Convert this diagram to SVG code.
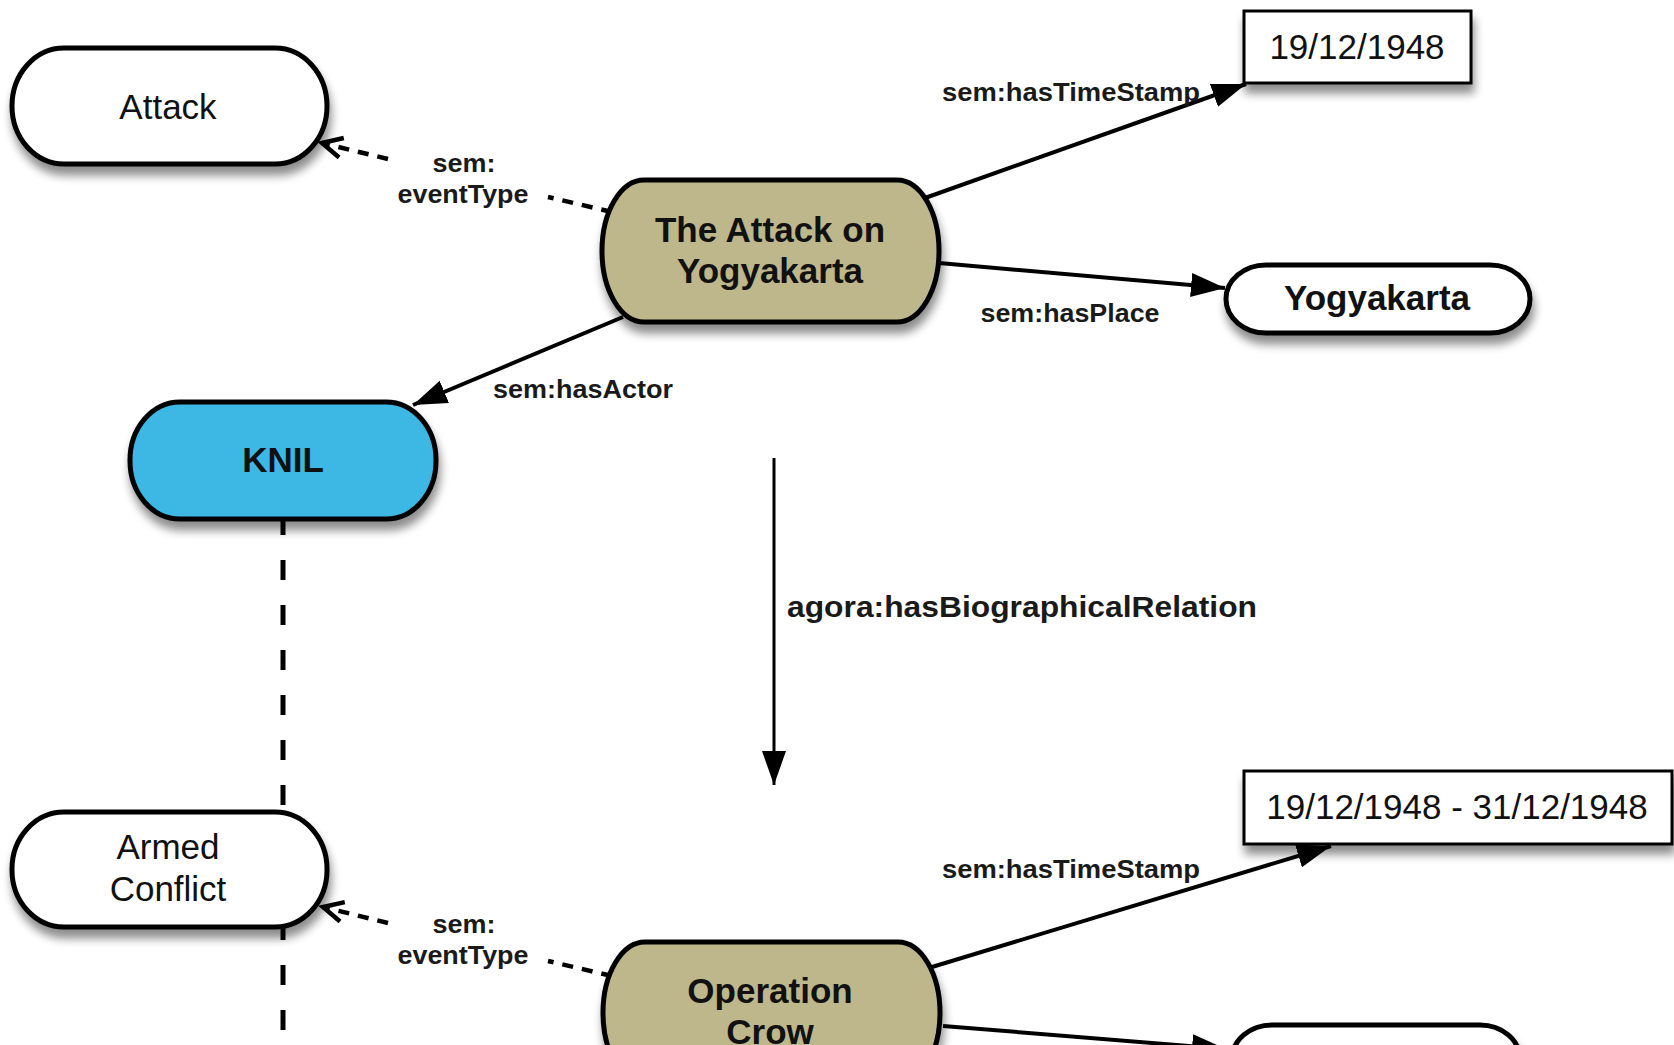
<svg xmlns="http://www.w3.org/2000/svg" width="1674" height="1045" viewBox="0 0 1674 1045">
  <defs>
    <style>
      .pill { stroke: #000; stroke-width: 5; filter: url(#shadow); }
      .box { fill: #fff; stroke: #000; stroke-width: 3; filter: url(#shadow); }
      .white { fill: #fff; }
      .olive { fill: #BDB78B; }
      .blue { fill: #3CB7E3; }
      .nt { font-family: "Liberation Sans", Arial, sans-serif; font-size: 35px; fill: #111; text-anchor: middle; }
      .ntb { font-family: "Liberation Sans", Arial, sans-serif; font-size: 35px; font-weight: bold; fill: #111; text-anchor: middle; }
      .el { font-family: "Liberation Sans", Arial, sans-serif; font-size: 25px; font-weight: bold; fill: #1a1a1a; text-anchor: middle; }
      .solid { fill: none; stroke: #000; stroke-width: 4; marker-end: url(#arr); }
      .dash { fill: none; stroke: #000; stroke-width: 4.5; stroke-dasharray: 11 9; marker-end: url(#open); }
      .vdash { fill: none; stroke: #000; stroke-width: 5; stroke-dasharray: 20 25; }
    </style>
    <filter id="shadow" x="-20%" y="-20%" width="140%" height="160%">
      <feGaussianBlur in="SourceAlpha" stdDeviation="5"/>
      <feOffset dx="2" dy="9" result="b"/>
      <feComponentTransfer><feFuncA type="linear" slope="0.45"/></feComponentTransfer>
      <feMerge><feMergeNode/><feMergeNode in="SourceGraphic"/></feMerge>
    </filter>
    <marker id="arr" markerUnits="userSpaceOnUse" markerWidth="40" markerHeight="30" refX="34" refY="12" orient="auto">
      <path d="M0,0 L34,12 L0,24 z" fill="#000"/>
    </marker>
    <marker id="open" markerUnits="userSpaceOnUse" markerWidth="30" markerHeight="26" refX="23" refY="12" orient="auto">
      <path d="M3,2 L23,12 L3,22" fill="none" stroke="#000" stroke-width="4.5"/>
    </marker>
  </defs>
  <rect width="1674" height="1045" fill="#fff"/>

  <g id="connectors">
    <path class="vdash" d="M283,515 L283,1045"/>
    <path class="dash" d="M612,212 L548,197 M388,159 L322,143"/>
    <path class="solid" d="M925,198 L1246,84"/>
    <path class="solid" d="M939,263 L1225,288"/>
    <path class="solid" d="M623,317 L413,405"/>
    <path class="solid" d="M774,458 L774,785" style="stroke-width:3"/>
    <path class="dash" d="M612,976 L548,961 M388,923 L323,907"/>
    <path class="solid" d="M932,967 L1331,846"/>
    <path class="solid" d="M943,1026 L1226,1049"/>
  </g>

  <g id="edge-labels">
    <text class="el" x="1071" y="101" textLength="258" lengthAdjust="spacingAndGlyphs">sem:hasTimeStamp</text>
    <text class="el" x="1070" y="322" textLength="179" lengthAdjust="spacingAndGlyphs">sem:hasPlace</text>
    <text class="el" x="583" y="398" textLength="180" lengthAdjust="spacingAndGlyphs">sem:hasActor</text>
    <text class="el" x="464" y="172" textLength="63" lengthAdjust="spacingAndGlyphs">sem:</text>
    <text class="el" x="463" y="203" textLength="131" lengthAdjust="spacingAndGlyphs">eventType</text>
    <text class="el" x="1022" y="617" textLength="470" lengthAdjust="spacingAndGlyphs" style="font-size:30px">agora:hasBiographicalRelation</text>
    <text class="el" x="1071" y="878" textLength="258" lengthAdjust="spacingAndGlyphs">sem:hasTimeStamp</text>
    <text class="el" x="464" y="933" textLength="63" lengthAdjust="spacingAndGlyphs">sem:</text>
    <text class="el" x="463" y="964" textLength="131" lengthAdjust="spacingAndGlyphs">eventType</text>
  </g>

  <g id="node-attack">
    <rect class="pill white" x="12" y="48" width="315" height="116" rx="52" ry="58"/>
    <text class="nt" x="168" y="119">Attack</text>
  </g>
  <g id="node-attack-yogyakarta">
    <rect class="pill olive" x="602" y="180" width="337" height="142" rx="42" ry="71"/>
    <text class="ntb" x="770" y="242">The Attack on</text>
    <text class="ntb" x="770" y="283">Yogyakarta</text>
  </g>
  <g id="node-date1">
    <rect class="box" x="1244" y="11" width="227" height="72"/>
    <text class="nt" x="1357" y="59">19/12/1948</text>
  </g>
  <g id="node-yogyakarta">
    <rect class="pill white" x="1226" y="265" width="304" height="68" rx="40" ry="34"/>
    <text class="ntb" x="1377" y="310">Yogyakarta</text>
  </g>
  <g id="node-knil">
    <rect class="pill blue" x="130" y="402" width="306" height="117" rx="50" ry="58"/>
    <text class="ntb" x="283" y="472">KNIL</text>
  </g>
  <g id="node-armed-conflict">
    <rect class="pill white" x="12" y="812" width="315" height="115" rx="52" ry="57"/>
    <text class="nt" x="168" y="859">Armed</text>
    <text class="nt" x="168" y="901">Conflict</text>
  </g>
  <g id="node-date2">
    <rect class="box" x="1244" y="771" width="428" height="73"/>
    <text class="nt" x="1457" y="819">19/12/1948 - 31/12/1948</text>
  </g>
  <g id="node-operation-crow">
    <rect class="pill olive" x="603" y="942" width="337" height="142" rx="42" ry="71"/>
    <text class="ntb" x="770" y="1003">Operation</text>
    <text class="ntb" x="770" y="1044">Crow</text>
  </g>
  <g id="node-place2">
    <rect class="pill white" x="1232" y="1025" width="288" height="68" rx="40" ry="34"/>
  </g>
</svg>
